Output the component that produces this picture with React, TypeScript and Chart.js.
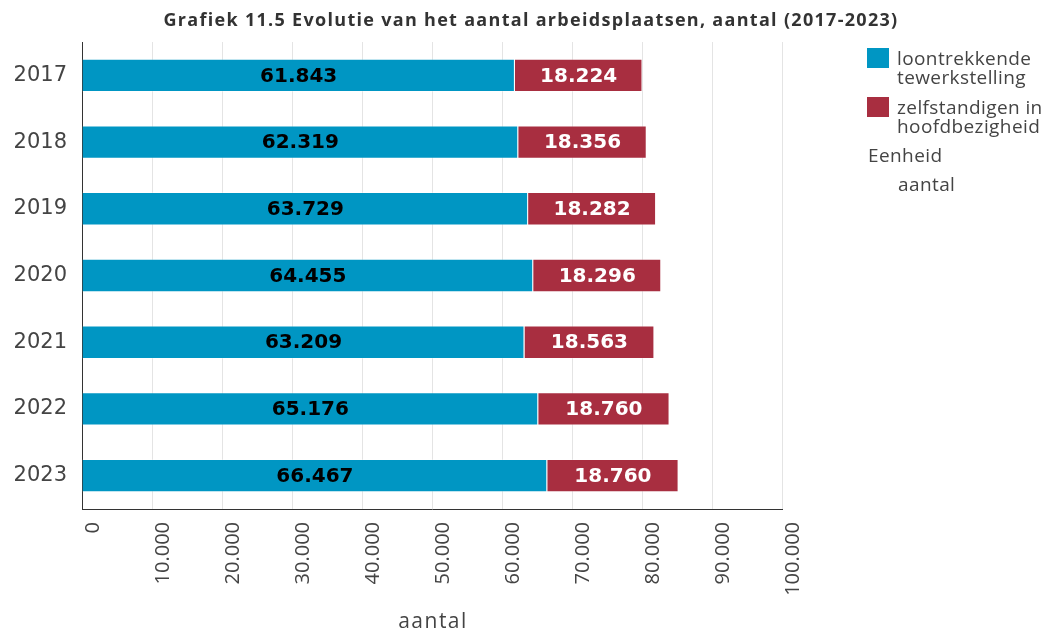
import React, { useEffect, useRef } from "react";
import { Chart, registerables } from "chart.js";

Chart.register(...registerables);

const categories = ["2017", "2018", "2019", "2020", "2021", "2022", "2023"];
const employees = [61843, 62319, 63729, 64455, 63209, 65176, 66467];
const selfEmployed = [18224, 18356, 18282, 18296, 18563, 18760, 18760];
const seriesNames = ["loontrekkende tewerkstelling", "zelfstandigen in hoofdbezigheid"];
const legendLines = [
  ["loontrekkende", "tewerkstelling"],
  ["zelfstandigen in", "hoofdbezigheid"],
];
const unitHeading = "Eenheid";
const unitValue = "aantal";
const axisTitle = "aantal";
const chartTitle = "Grafiek 11.5 Evolutie van het aantal arbeidsplaatsen, aantal (2017-2023)";
const xMin = 0;
const xMax = 100000;
const xStep = 10000;

const BLUE = "#0096c3";
const RED = "#a82e40";
const TEXT = "#444444";

const fmt = (v: number) => String(Math.round(v)).replace(/\B(?=(\d{3})+(?!\d))/g, ".");

const decorPlugin = {
  id: "decor",
  afterDraw(chart: any) {
    const ctx = chart.ctx as any;
    ctx.save();
    // title
    ctx.fillStyle = "#333333";
    ctx.font = "bold 18px 'Open Sans', sans-serif";
    ctx.letterSpacing = "1.3px";
    ctx.textAlign = "center";
    ctx.textBaseline = "middle";
    ctx.fillText(chartTitle, 531, 21);

    // x axis title
    ctx.fillStyle = TEXT;
    ctx.font = "21px 'Open Sans', sans-serif";
    ctx.letterSpacing = "1.5px";
    ctx.textBaseline = "alphabetic";
    ctx.fillText(axisTitle, 433, 628);

    // legend
    const colors = [BLUE, RED];
    const boxX = 867;
    const boxTops = [48, 97];
    ctx.textAlign = "left";
    ctx.font = "19px 'Open Sans', sans-serif";
    ctx.letterSpacing = "0.4px";
    legendLines.forEach((lines, i) => {
      ctx.fillStyle = colors[i];
      ctx.fillRect(boxX, boxTops[i], 22, 20);
      ctx.fillStyle = TEXT;
      lines.forEach((ln, j) => {
        ctx.fillText(ln, 897, boxTops[i] + 17 + j * 19);
      });
    });
    ctx.fillText(unitHeading, 868, 162);
    ctx.fillText(unitValue, 898, 191);
    ctx.restore();
  },
  afterDatasetsDraw(chart: any) {
    const ctx = chart.ctx as CanvasRenderingContext2D;
    ctx.save();
    ctx.font = "bold 20px 'DejaVu Sans', sans-serif";
    ctx.textAlign = "center";
    ctx.textBaseline = "middle";
    chart.data.datasets.forEach((ds: any, di: number) => {
      const meta = chart.getDatasetMeta(di);
      meta.data.forEach((el: any, i: number) => {
        const cx = (el.x + el.base) / 2;
        ctx.fillStyle = di === 0 ? "#000000" : "#ffffff";
        ctx.fillText(fmt(ds.data[i]), cx, el.y + 1);
      });
    });
    ctx.restore();
  },
};

export default function App() {
  const ref = useRef<HTMLCanvasElement | null>(null);
  useEffect(() => {
    if (!ref.current) return;
    const chart = new Chart(ref.current, {
      type: "bar",
      data: {
        labels: categories,
        datasets: [
          {
            label: seriesNames[0],
            data: employees,
            backgroundColor: BLUE,
            borderColor: "rgba(255,255,255,0.3)",
            borderWidth: 1,
            barPercentage: 0.5,
            categoryPercentage: 1,
          },
          {
            label: seriesNames[1],
            data: selfEmployed,
            backgroundColor: RED,
            borderColor: "rgba(255,255,255,0.3)",
            borderWidth: 1,
            barPercentage: 0.5,
            categoryPercentage: 1,
          },
        ],
      },
      options: {
        indexAxis: "y",
        animation: false,
        responsive: false,
        maintainAspectRatio: false,
        layout: { padding: { top: 42, right: 271, left: 0, bottom: 0 } },
        plugins: {
          legend: { display: false },
          title: { display: false },
          tooltip: { enabled: false },
        },
        scales: {
          x: {
            type: "linear",
            stacked: true,
            min: xMin,
            max: xMax,
            afterFit: (s: any) => {
              s.height = 124;
            },
            ticks: {
              stepSize: xStep,
              callback: (v: any) => fmt(Number(v)),
              minRotation: 90,
              maxRotation: 90,
              padding: 13,
              labelOffset: 11,
              color: TEXT,
              font: { family: "'Open Sans', sans-serif", size: 20 },
            },
            grid: { color: "#e4e4e4", drawTicks: false, lineWidth: 1 },
            border: { color: "#333333", width: 1 },
            title: { display: false },
          },
          y: {
            type: "category",
            stacked: true,
            afterFit: (s: any) => {
              s.width = 82;
            },
            ticks: {
              padding: 15,
              color: TEXT,
              font: { family: "'DejaVu Sans', sans-serif", size: 21 },
            },
            grid: { display: false, drawTicks: false },
            border: { color: "#333333", width: 1 },
          },
        },
      },
      plugins: [decorPlugin],
    } as any);
    return () => chart.destroy();
  }, []);
  return (
    <div style={{ position: "absolute", left: 0, top: 0, width: 1053, height: 633, background: "#fff" }}>
      <canvas ref={ref} width={1053} height={633} style={{ display: "block", width: 1053, height: 633 }} />
    </div>
  );
}
